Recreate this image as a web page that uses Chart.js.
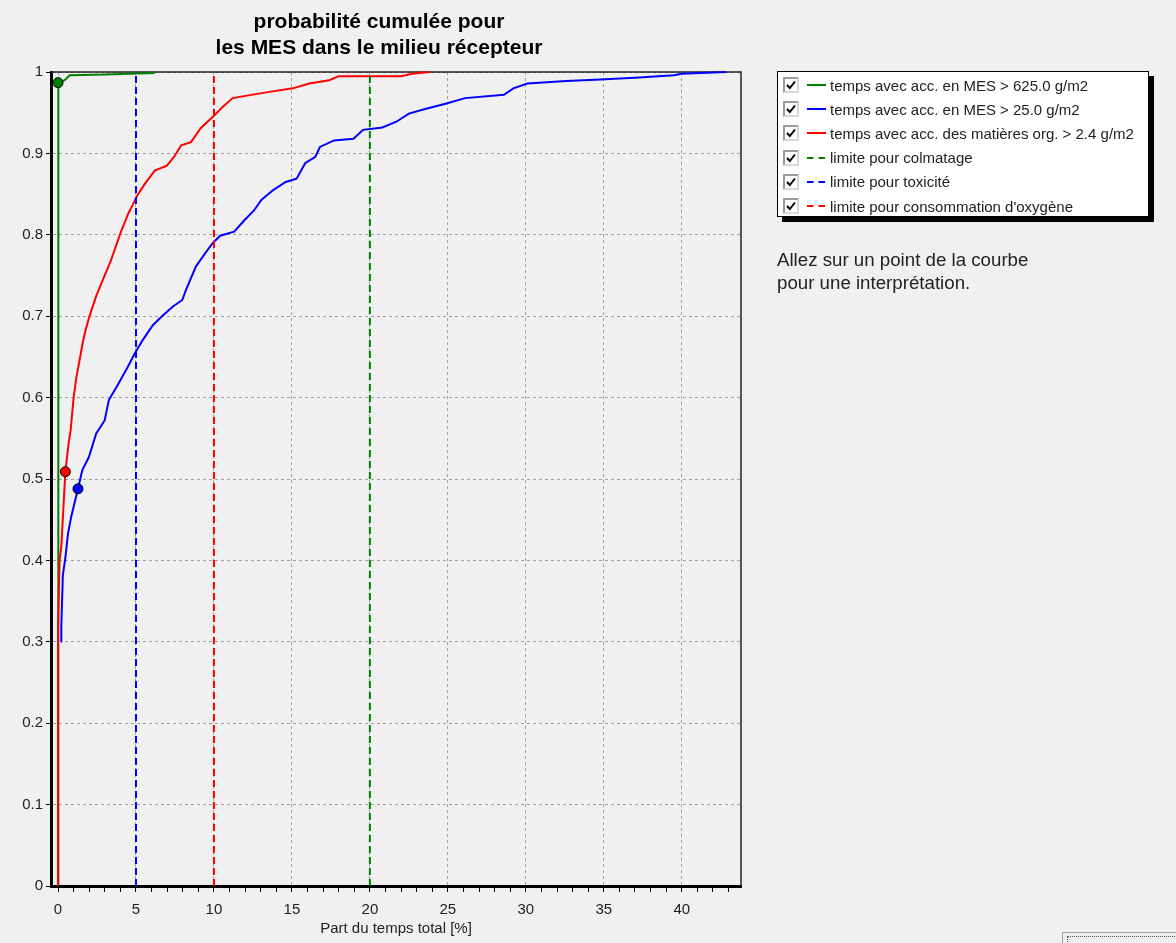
<!DOCTYPE html>
<html lang="fr">
<head>
<meta charset="utf-8">
<title>probabilité cumulée pour les MES</title>
<script src="https://cdn.jsdelivr.net/npm/chart.js@4.4.1/dist/chart.umd.min.js"></script>
<style>
    body { margin: 0; background: #f0f0f0; font-family: "Liberation Sans", Arial, sans-serif; }
    #cadre { position: relative; width: 1176px; height: 943px; overflow: hidden; }
    #graphique { position: absolute; left: 0; top: 0; }
    #legende {
        position: absolute; left: 777px; top: 71px; width: 372px; height: 146px;
        box-sizing: border-box; background: #fff; border: 1px solid #000;
        box-shadow: 5px 5px 0 #000; padding-top: 1px;
    }
    .ligne { height: 24.2px; display: flex; align-items: center; font-size: 15px; color: #222; white-space: nowrap; }
    .case { width: 16px; height: 16px; box-sizing: border-box; border: 2px solid #9a9a9a; border-right-color: #d8d8d8; border-bottom-color: #d8d8d8; background: #fff; margin-left: 5px; margin-right: 8px; position: relative; }
    .case svg { position: absolute; left: 0; top: 0; }
    .trait { width: 19px; height: 4px; margin-right: 4px; }
    #aide { position: absolute; left: 777px; top: 249px; font-size: 18.7px; line-height: 22.7px; color: #222; }
    #bouton { position: absolute; left: 1062px; top: 932px; width: 130px; height: 22px; border: 1px solid #a0a0a0; background: #f0f0f0; }
    #bouton div { position: absolute; left: 4px; top: 3px; right: 4px; height: 14px; border: 1px dotted #555; }
</style>
</head>
<body>
<div id="cadre">
    <canvas id="graphique" width="1176" height="943"></canvas>
    <div id="legende"></div>
    <div id="aide">Allez sur un point de la courbe<br>pour une interprétation.</div>
    <div id="bouton"><div></div></div>
</div>
<script>
// Courbe verte : temps avec acc. en MES > 625.0 g/m2
const tempsMES625 = [0.02, 0.02, 0.43, 0.74, 3.0, 6.2];
const probMES625 = [0, 0.987, 0.99, 0.996, 0.997, 0.999];

// Courbe bleue : temps avec acc. en MES > 25.0 g/m2
const tempsMES25 = [0.2, 0.21, 0.31, 0.47, 0.64, 0.85, 1.28, 1.56, 1.98, 2.45, 2.99, 3.26, 3.9, 4.48, 4.91,
    5.44, 6.08, 6.72, 7.37, 7.97, 8.2, 8.84, 9.46, 9.93, 10.4, 11.3, 11.95, 12.57, 13.04, 13.8, 14.6, 15.3,
    15.85, 16.5, 16.8, 17.7, 18.95, 19.56, 20.8, 21.7, 22.5, 23.6, 24.85, 26.1, 28.6, 29.2, 30.1, 32.6, 34.8,
    37, 39.5, 40, 42.85];
const probMES25 = [0.3, 0.318, 0.382, 0.403, 0.433, 0.454, 0.488, 0.511, 0.527, 0.556, 0.572, 0.597, 0.618,
    0.638, 0.654, 0.671, 0.689, 0.701, 0.712, 0.72, 0.732, 0.761, 0.778, 0.79, 0.799, 0.804, 0.818, 0.83,
    0.843, 0.855, 0.865, 0.869, 0.888, 0.896, 0.908, 0.916, 0.918, 0.929, 0.932, 0.939, 0.949, 0.955, 0.961,
    0.968, 0.972, 0.98, 0.986, 0.989, 0.991, 0.993, 0.996, 0.998, 1.0];

// Courbe rouge : temps avec acc. des matières org. > 2.4 g/m2
const tempsMatOrg = [0, 0, 0.1, 0.21, 0.31, 0.47, 0.68, 0.81, 1.0, 1.17, 1.38, 1.6, 1.77, 2.0, 2.45, 3.4, 4.0,
    4.5, 4.74, 5.1, 5.58, 6.2, 6.98, 7.45, 7.9, 8.53, 9.15, 9.93, 10.55, 11.2, 12.4, 13.66, 15.06, 16.1, 17.4,
    18.0, 22.0, 22.7, 23.85];
const probMatOrg = [0, 0.318, 0.4, 0.417, 0.452, 0.509, 0.544, 0.56, 0.6, 0.624, 0.646, 0.669, 0.683, 0.699,
    0.725, 0.769, 0.802, 0.826, 0.835, 0.849, 0.863, 0.879, 0.885, 0.896, 0.91, 0.914, 0.931, 0.945, 0.957,
    0.968, 0.972, 0.976, 0.98, 0.986, 0.99, 0.995, 0.995, 0.998, 1.0];

// Limites (en % du temps total)
const limiteColmatage = 20;
const limiteToxicite = 5;
const limiteOxygene = 10;

// Points marqués sur les courbes (verte, bleue, rouge)
const marqueursX = [0, 1.28, 0.47];
const marqueursY = [0.987, 0.488, 0.509];

// Graduations
const xLabels = ['0', '5', '10', '15', '20', '25', '30', '35', '40'];
const yLabels = ['0', '0.1', '0.2', '0.3', '0.4', '0.5', '0.6', '0.7', '0.8', '0.9', '1'];

const police = '"Liberation Sans", Arial, sans-serif';
const vert = '#008000';
const bleu = '#0000ff';
const rouge = '#ff0000';

function points(xs, ys) {
    return xs.map((x, i) => ({ x: x, y: ys[i] }));
}

function courbe(label, xs, ys, couleur, ordre) {
    return {
        label: label,
        data: points(xs, ys),
        borderColor: couleur,
        backgroundColor: couleur,
        borderWidth: 2,
        pointRadius: 0,
        fill: false,
        tension: 0,
        clip: 4,
        order: ordre
    };
}

function limite(label, x, couleur) {
    return {
        label: label,
        data: [{ x: x, y: 0 }, { x: x, y: 1 }],
        borderColor: couleur,
        backgroundColor: couleur,
        borderWidth: 2,
        borderDash: [7, 4],
        pointRadius: 0,
        fill: false,
        pointille: true,
        order: 0
    };
}

const couleursMarqueurs = [vert, bleu, rouge];

// cadre haut et droit de la zone de tracé
const cadrePlugin = {
    id: 'cadrePlugin',
    beforeDatasetsDraw(chart) {
        const a = chart.chartArea;
        const ctx = chart.ctx;
        ctx.save();
        ctx.strokeStyle = '#222';
        ctx.lineWidth = 1.5;
        ctx.beginPath();
        ctx.moveTo(a.left, a.top);
        ctx.lineTo(a.right, a.top);
        ctx.lineTo(a.right, a.bottom);
        ctx.stroke();
        ctx.restore();
    }
};

const xGraduations = [];
for (let v = 0; v <= 43; v++) xGraduations.push(v);

const ctx = document.getElementById('graphique').getContext('2d');
const graphique = new Chart(ctx, {
    type: 'line',
    data: {
        datasets: [
            courbe('temps avec acc. en MES > 625.0 g/m2', tempsMES625, probMES625, vert, 3),
            courbe('temps avec acc. en MES > 25.0 g/m2', tempsMES25, probMES25, bleu, 2),
            courbe('temps avec acc. des matières org. > 2.4 g/m2', tempsMatOrg, probMatOrg, rouge, 1),
            limite('limite pour colmatage', limiteColmatage, vert),
            limite('limite pour toxicité', limiteToxicite, bleu),
            limite('limite pour consommation d\'oxygène', limiteOxygene, rouge),
            {
                label: '',
                data: points(marqueursX, marqueursY),
                showLine: false,
                pointRadius: 5,
                pointBackgroundColor: couleursMarqueurs,
                pointBorderColor: '#000',
                pointBorderWidth: 1,
                clip: 8,
                order: -1
            }
        ]
    },
    options: {
        responsive: false,
        animation: false,
        events: [],
        layout: {
            padding: { top: 9, left: 17, right: 435, bottom: 0 }
        },
        scales: {
            x: {
                type: 'linear',
                min: -0.45,
                max: 43.8,
                afterBuildTicks: function (axis) {
                    axis.ticks = xGraduations.map(v => ({ value: v }));
                },
                afterFit: function (axis) {
                    axis.height = 57;
                },
                ticks: {
                    autoSkip: false,
                    maxRotation: 0,
                    padding: 9,
                    color: '#222',
                    font: { family: police, size: 15 },
                    callback: function (value) {
                        return value % 5 === 0 ? xLabels[value / 5] : '';
                    }
                },
                grid: {
                    color: function (c) {
                        return c.tick && c.tick.value % 5 === 0 ? '#a0a0a0' : 'rgba(0,0,0,0)';
                    },
                    tickColor: '#000',
                    tickLength: 6,
                    lineWidth: 1
                },
                border: { display: true, color: '#000', width: 3, dash: [3, 3] },
                title: {
                    display: true,
                    text: 'Part du temps total [%]',
                    color: '#222',
                    font: { family: police, size: 15 },
                    padding: { top: 0, bottom: 5 }
                }
            },
            y: {
                min: 0,
                max: 1,
                afterBuildTicks: function (axis) {
                    axis.ticks = yLabels.map(l => ({ value: Number(l) }));
                },
                afterFit: function (axis) {
                    axis.width = 34;
                },
                ticks: {
                    padding: 3,
                    color: '#222',
                    font: { family: police, size: 15 },
                    callback: function (value, index) {
                        return yLabels[index];
                    }
                },
                grid: {
                    color: '#a0a0a0',
                    tickColor: '#000',
                    tickLength: 5,
                    lineWidth: 1
                },
                border: { display: true, color: '#000', width: 3, dash: [3, 3] }
            }
        },
        plugins: {
            legend: { display: false },
            tooltip: { enabled: false },
            title: {
                display: true,
                text: ['probabilité cumulée pour', 'les MES dans le milieu récepteur'],
                color: '#000',
                font: { family: police, size: 21, weight: 'bold', lineHeight: 1.24 },
                padding: { top: 0, bottom: 11 }
            }
        }
    },
    plugins: [cadrePlugin]
});

// Légende avec cases cochées
const legende = document.getElementById('legende');
graphique.data.datasets.filter(ds => ds.label).forEach(function (ds) {
    const ligne = document.createElement('div');
    ligne.className = 'ligne';
    const dash = ds.pointille ? ' stroke-dasharray="6.5,5"' : '';
    ligne.innerHTML =
        '<span class="case"><svg width="12" height="12" viewBox="0 0 12 12">' +
        '<polyline points="2,6 4.8,9 10,2.5" fill="none" stroke="#000" stroke-width="2"/></svg></span>' +
        '<svg class="trait" width="19" height="4"><line x1="0" y1="2" x2="19" y2="2" stroke="' +
        ds.borderColor + '" stroke-width="2"' + dash + '/></svg>' +
        '<span></span>';
    ligne.lastChild.textContent = ds.label;
    legende.appendChild(ligne);
});
</script>
</body>
</html>
